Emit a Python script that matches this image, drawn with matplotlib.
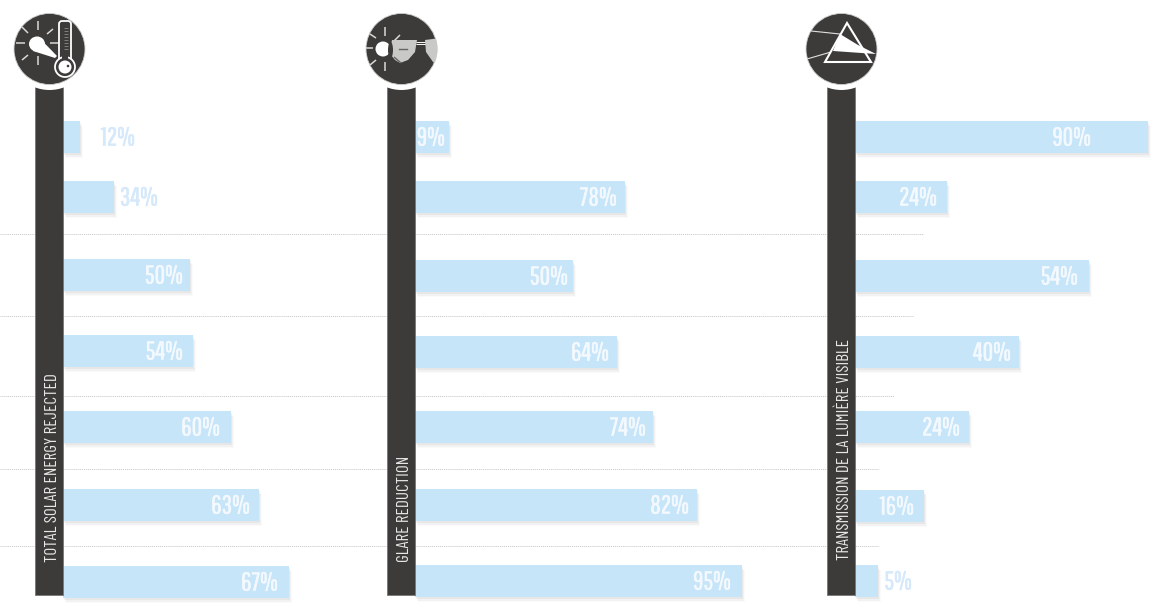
import matplotlib
matplotlib.use('Agg')
import matplotlib.pyplot as plt
import matplotlib.font_manager as fm
import matplotlib.patheffects as pe
from matplotlib.patches import Circle, Polygon, Rectangle, FancyBboxPatch, Ellipse
import numpy as np

have = {f.name for f in fm.fontManager.ttflist}
font = 'Pathway Gothic One' if 'Pathway Gothic One' in have else 'Liberation Sans'
font_title = 'Barlow Condensed' if 'Barlow Condensed' in have else 'Liberation Sans'

titles = ['TOTAL SOLAR ENERGY REJECTED', 'GLARE REDUCTION', 'TRANSMISSION DE LA LUMIÈRE VISIBLE']
labels_a = ['12%', '34%', '50%', '54%', '60%', '63%', '67%']
labels_b = ['9%', '78%', '50%', '64%', '74%', '82%', '95%']
labels_c = ['90%', '24%', '54%', '40%', '24%', '16%', '5%']
# bar lengths as drawn in the picture, they don't follow the labels
lengths_a = [17, 51, 127, 130, 168, 196, 226]
lengths_b = [34, 210, 158, 202, 238, 282, 327]
lengths_c = [293, 92, 234, 164, 114, 69, 23]
rows_a = [137, 197, 275, 351, 427, 505, 582]
rows_b = [137, 197, 276, 352, 427, 505, 581]
rows_c = [137, 197, 276, 352, 427, 506, 581]
# how far each label's right edge sits from the bar end (negative = past it)
insets_a = [-55, -44, 7, 10, 11, 9, 11]
insets_b = [4, 8, 5, 8, 7, 8, 11]
insets_c = [57, 10, 11, 8, 9, 10, -34]

dark = '#3c3b39'
blue = '#c6e5f9'
pale = '#d6e9fa'

fig = plt.figure(figsize=(11.69, 6.05), dpi=100)
ax = fig.add_axes([0, 0, 1, 1])
ax.set_xlim(0, 1169)
ax.set_ylim(605, 0)
ax.axis('off')

# dotted separators
for y, x2 in zip([234, 316, 396, 469, 546], [923, 913, 894, 879, 879]):
    ax.plot([0, x2], [y, y], color='#c4c4c4', lw=0.7, ls=(0, (1, 1)), zorder=1)


def column(x0, title, labels, lengths, rows, insets, title_y):
    base = x0 + 28
    # soft shadow under bars
    for off, a in [(5, 0.04), (3.5, 0.06), (2, 0.09)]:
        ax.barh(np.array(rows) + off, lengths, height=32, left=base + off / 2,
                color='#808080', alpha=a, lw=0, zorder=2)
    ax.barh(rows, lengths, height=32, left=base, color=blue, lw=0, zorder=3)
    for y, lab, n, ins in zip(rows, labels, lengths, insets):
        c = pale if ins < 0 else '#f3f9fe'
        t = ax.text(base + n - ins, y + 1, lab, color=c, fontsize=18.5,
                    family=font, ha='right', va='center', zorder=5)
        t.set_path_effects([pe.withStroke(linewidth=0.4, foreground=c)])
    cx = x0 + 14.5
    ax.add_patch(Rectangle((x0, 85), 28, 510, fc=dark, ec='#777777', lw=0.6, zorder=6))
    ax.add_patch(Circle((cx, 49), 41, fc='white', ec='none', zorder=7))
    ax.add_patch(Circle((cx, 49), 35.5, fc=dark, ec='#cccccc', lw=0.6, zorder=8))
    ax.text(cx + 3, title_y, title, rotation=90, color='#e8e8e8', fontsize=12.3,
            family=font_title, ha='center', va='bottom', zorder=9)


def seg(pts, color='#d8d8d6', lw=1.1, z=9):
    for (a, b, c, d) in pts:
        ax.plot([a, c], [b, d], color=color, lw=lw, zorder=z, solid_capstyle='butt')


column(35, titles[0], labels_a, lengths_a, rows_a, insets_a, 562)
column(387, titles[1], labels_b, lengths_b, rows_b, insets_b, 562)
column(827, titles[2], labels_c, lengths_c, rows_c, insets_c, 560)

# icon 1, sun and thermometer
seg([(16, 43, 25, 43), (37.5, 21, 37.5, 30), (37.5, 56, 37.5, 65), (22, 27, 28, 33),
     (47, 34, 53, 29), (22, 60, 28, 55), (50, 43, 61, 43)])
ax.add_patch(Ellipse((37, 44), 16, 15, fc='white', ec='none', zorder=9))
ax.add_patch(Polygon([(38, 36.5), (57, 56), (55, 58), (33, 51)], fc='white', ec='none', zorder=9))
ax.add_patch(FancyBboxPatch((62, 24), 6, 36, boxstyle='round,pad=3', fc=dark, ec='white', lw=1.3, zorder=10))
ax.add_patch(Circle((65, 67), 10, fc=dark, ec='white', lw=1.3, zorder=10))
ax.add_patch(Rectangle((62, 52), 6, 12, fc=dark, ec='none', zorder=10.5))
ax.add_patch(Circle((65, 67), 6.5, fc='white', ec='none', zorder=11))
ax.add_patch(Circle((68, 66), 1.3, fc=dark, ec='none', zorder=12))
seg([(64, y, 68, y) for y in range(28, 50, 3)], color='#999999', lw=0.5, z=11)

# icon 2, sun and sunglasses
seg([(385, 27, 385, 36), (385, 62, 385, 71), (366, 48, 373, 48), (370, 34, 376, 38),
     (370, 65, 376, 60), (394, 41, 400, 35)])
ax.add_patch(Circle((383, 49), 7.5, fc='white', ec='none', zorder=9))
ax.add_patch(Polygon([(392, 40), (417, 40), (415, 52), (408, 60), (400, 63), (395, 60), (391, 55), (391, 45)],
                     fc='#c9c9c7', ec='none', zorder=9))
ax.add_patch(Ellipse((390.5, 50), 5, 16, fc=dark, ec='none', zorder=10))
ax.plot([399, 407], [48.5, 48.5], color='#666666', lw=1, zorder=10)
seg([(394, 57, 401, 63)], color='#666666', lw=1, z=10)
seg([(416, 42, 427, 42), (416, 44, 427, 44)], color='white', lw=0.7)
lens = Polygon([(425, 40), (440, 38), (440, 65), (433, 62), (426, 52)], fc='#c9c9c7', ec='none', zorder=9)
ax.add_patch(lens)
lens.set_clip_path(Circle((402, 49), 35.5, transform=ax.transData))

# icon 3, prism
seg([(811, 31, 840, 34), (807, 59, 831, 52)], color='#e0e0e0', lw=0.8)
ax.add_patch(Polygon([(847, 23), (825, 62), (871, 62)], fc='none', ec='white', lw=1.5, zorder=9))
ax.add_patch(Polygon([(840, 34), (858, 45), (876, 54), (833, 51)], fc='white', ec='none', zorder=10))

plt.savefig('out.png', dpi=100)
